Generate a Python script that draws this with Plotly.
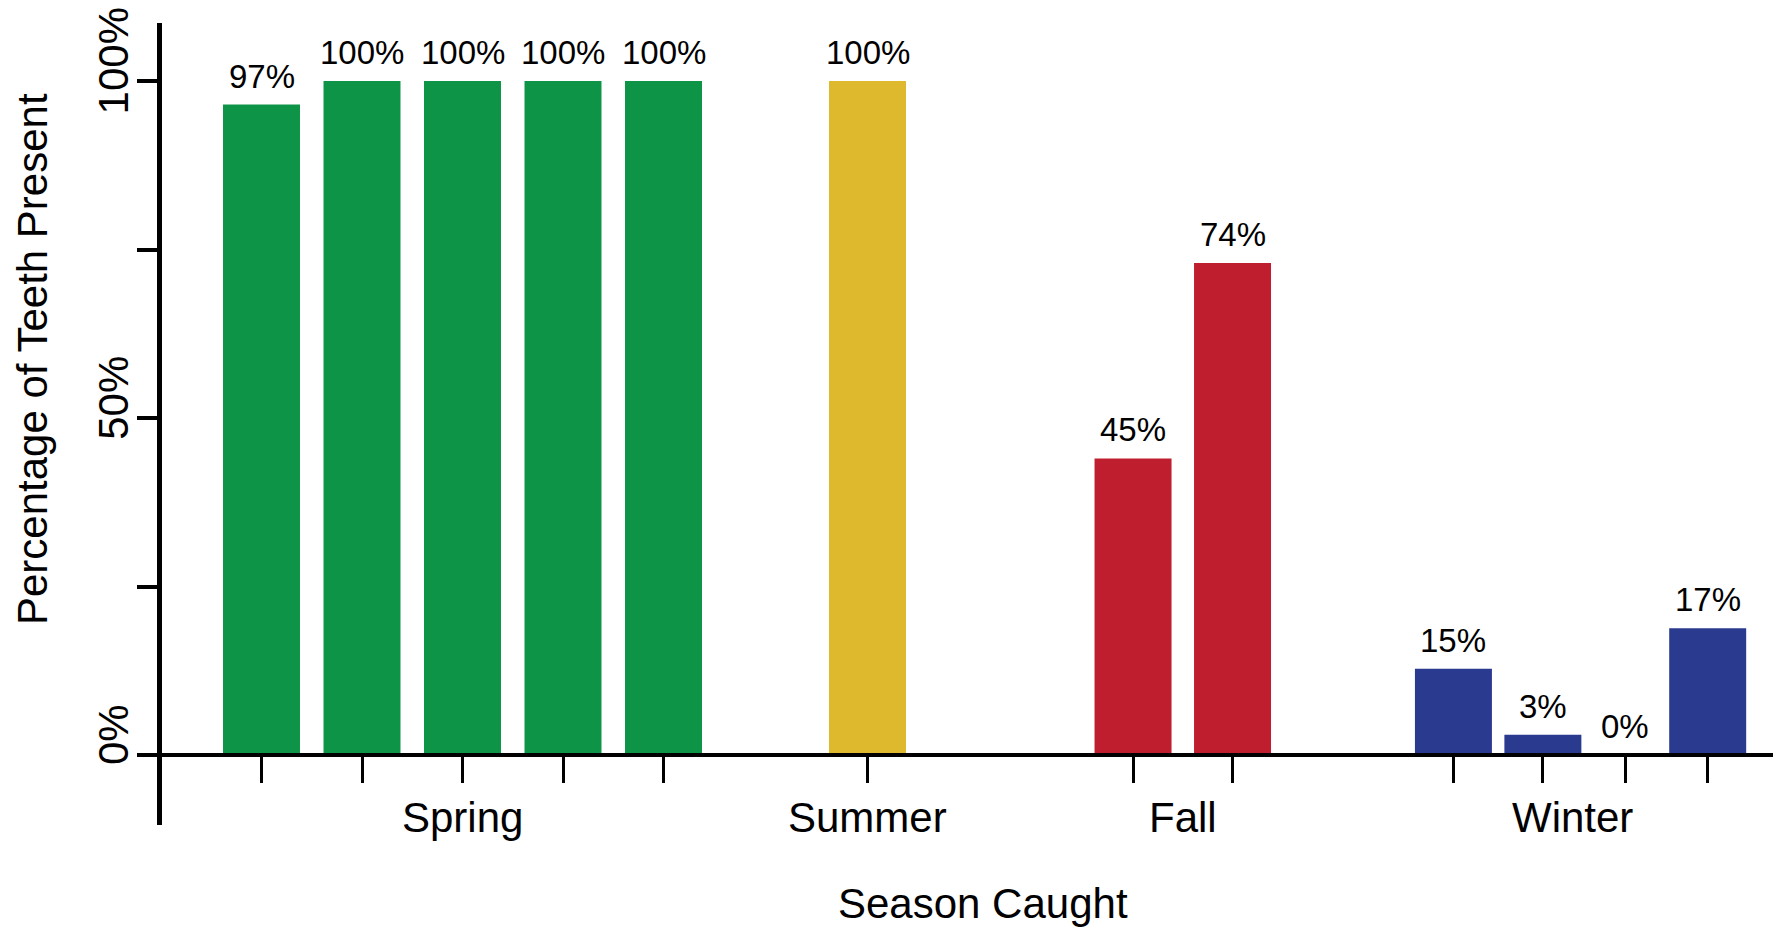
import plotly.graph_objects as go

# ---- data ----
seasons = ["Spring", "Summer", "Fall", "Winter"]
spring_values = [96.5, 100, 100, 100, 100]
summer_values = [100]
fall_values = [44, 73]
winter_values = [12.8, 3, 0, 18.8]
spring_labels = ["97%", "100%", "100%", "100%", "100%"]
summer_labels = ["100%"]
fall_labels = ["45%", "74%"]
winter_labels = ["15%", "3%", "0%", "17%"]
y_tick_values = [0, 25, 50, 75, 100]
y_tick_text = ["0%", "", "50%", "", "100%"]
x_title = "Season Caught"
y_title = "Percentage of Teeth Present"

# ---- layout (positions in slot units along the x axis) ----
spring_pos = [0, 1, 2, 3, 4]
summer_pos = [6.03]
fall_pos = [8.672, 9.662]
winter_pos = [11.86, 12.75, 13.57, 14.39]
season_label_pos = [2, 6.03, 9.17, 13.04]
colors = ["#0e9446", "#dfb92d", "#be1e2d", "#2a3a8f"]
bar_width = 0.766

# page body adds an 8px offset; work in window pixels and convert
OFF = 8
W, H = 1783 - OFF, 929 - OFF
FONT = "Liberation Sans, Arial, Helvetica, sans-serif"


def fx(px):
    return (px - OFF) / W


def fy(py):
    return 1 - (py - OFF) / H


x_range = [(139 - 261.5) / 100.5, (1773 - 261.5) / 100.5]
px_per_unit = (755 - 81) / 100.0
y_range = [-(825 - 755) / px_per_unit, (755 - 23) / px_per_unit]

groups = [
    (spring_pos, spring_values, spring_labels),
    (summer_pos, summer_values, summer_labels),
    (fall_pos, fall_values, fall_labels),
    (winter_pos, winter_values, winter_labels),
]

fig = go.Figure()
annotations = []
all_pos = []
for (pos, vals, labs), name, col in zip(groups, seasons, colors):
    fig.add_trace(go.Bar(
        x=pos, y=vals, width=[bar_width] * len(pos), name=name,
        marker=dict(color=col, line=dict(width=0)),
        showlegend=False, hoverinfo="skip",
    ))
    all_pos += pos
    for xp, v, lab in zip(pos, vals, labs):
        annotations.append(dict(
            x=xp, y=v, xref="x", yref="y", text=lab, showarrow=False,
            yanchor="bottom", xanchor="center", yshift=8,
            font=dict(family=FONT, size=33, color="black"),
        ))

for name, xp in zip(seasons, season_label_pos):
    annotations.append(dict(
        x=xp, y=fy(817.5), xref="x", yref="paper", text=name,
        showarrow=False, xanchor="center", yanchor="middle",
        font=dict(family=FONT, size=42, color="black"),
    ))

annotations.append(dict(
    x=fx(983), y=fy(903.5), xref="paper", yref="paper", text=x_title,
    showarrow=False, xanchor="center", yanchor="middle",
    font=dict(family=FONT, size=42, color="black"),
))
annotations.append(dict(
    x=fx(33), y=fy(359), xref="paper", yref="paper", text=y_title,
    showarrow=False, xanchor="center", yanchor="middle", textangle=-90,
    borderpad=0,
    font=dict(family=FONT, size=42, color="black"),
))

fig.update_layout(
    width=W, height=H,
    margin=dict(l=0, r=0, t=0, b=0, autoexpand=False),
    paper_bgcolor="white", plot_bgcolor="white",
    barmode="overlay",
    annotations=annotations,
    xaxis=dict(
        domain=[fx(139), fx(1773)], range=x_range,
        anchor="free", position=fy(755),
        showline=True, linecolor="black", linewidth=4,
        ticks="outside", ticklen=26, tickwidth=3, tickcolor="black",
        tickmode="array", tickvals=all_pos, showticklabels=False,
        showgrid=False, zeroline=False, fixedrange=True,
    ),
    yaxis=dict(
        domain=[fy(825), fy(23)], range=y_range,
        anchor="free", position=fx(159),
        showline=True, linecolor="black", linewidth=5,
        ticks="outside", ticklen=20, tickwidth=4, tickcolor="black",
        tickmode="array", tickvals=y_tick_values, ticktext=y_tick_text,
        tickangle=-90, ticklabelshift=-14, ticklabelstandoff=-8,
        ticklabeloverflow="allow",
        tickfont=dict(family=FONT, size=42, color="black"),
        showgrid=False, zeroline=False, fixedrange=True,
    ),
    yaxis2=dict(
        domain=[fy(825), fy(23)], range=y_range,
        overlaying="y", anchor="free", position=fx(159), side="left",
        showline=False,
        ticks="inside", ticklen=25, tickwidth=4, tickcolor="black",
        tickmode="array", tickvals=y_tick_values, showticklabels=False,
        showgrid=False, zeroline=False, fixedrange=True,
    ),
)

fig.write_html("out.html")
